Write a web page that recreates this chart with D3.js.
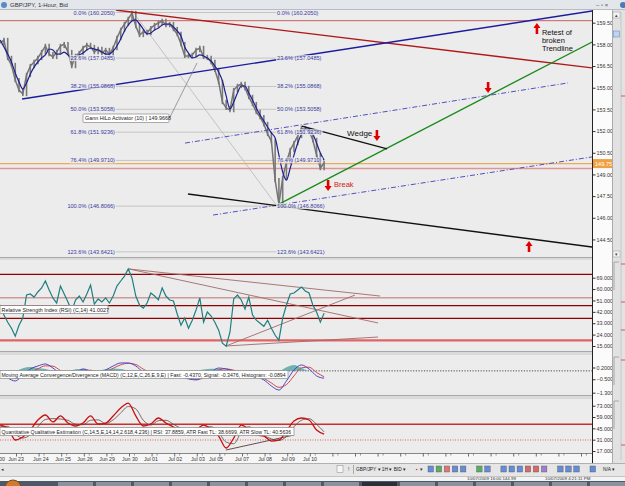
<!DOCTYPE html>
<html>
<head>
<meta charset="utf-8">
<script src="https://cdnjs.cloudflare.com/ajax/libs/d3/7.8.5/d3.min.js"></script>
<style>
body{margin:0;background:#fff;overflow:hidden}
svg{display:block;font-family:"Liberation Sans",Arial,sans-serif}
</style>
</head>
<body>
<div id="vis"></div>
<script>
// GBP/JPY 1-hour, 22 Jun - 10 Jul 2009, x in trading days (Jun 23 = 1)
var barStart = 0.3, barStep = 1 / 6;      // 4-hour samples
var price = [158.09,158.30,157.06,156.57,155.53,154.84,154.57,155.88,156.50,156.78,
  157.06,157.47,157.89,157.33,157.13,157.47,157.89,158.02,157.47,156.50,
  157.20,157.40,157.75,157.96,157.82,157.47,157.68,157.40,157.61,157.33,
  157.75,158.44,159.00,159.41,159.76,160.17,159.27,158.65,158.86,158.79,
  159.13,159.34,159.48,159.62,159.34,159.41,159.06,158.72,158.02,157.20,
  157.20,157.27,157.61,157.75,157.13,157.06,156.78,156.23,155.40,154.01,
  153.60,153.45,154.84,155.12,155.26,154.98,154.36,153.87,153.32,152.97,
  152.49,151.80,151.31,148.61,146.95,148.75,149.86,150.69,151.17,151.66,
  152.21,152.07,152.00,151.38,150.34,149.44,149.79];
var gann = [158.30,157.82,157.33,156.78,156.02,155.40,154.91,155.33,155.95,156.43,
  156.78,157.06,157.27,157.68,157.61,157.33,157.33,157.47,157.27,157.06,
  157.13,157.27,157.40,157.61,157.75,157.68,157.61,157.47,157.33,157.33,
  157.54,157.89,158.37,158.93,159.34,159.62,159.69,159.41,159.06,158.72,
  158.79,159.00,159.13,159.34,159.41,159.41,159.20,158.93,158.58,157.82,
  157.40,157.06,157.13,157.27,157.20,157.06,156.85,156.50,156.09,155.47,
  154.43,153.53,154.01,154.63,155.12,155.12,154.63,154.15,153.60,153.11,
  152.70,152.28,151.87,151.52,150.34,149.17,148.61,149.44,150.34,151.17,
  151.80,152.14,152.14,151.80,151.17,150.48,149.99];
var rsi = [47.4,39.5,33.8,29.0,22.7,31.4,37.1,55.3,56.1,53.7,
  57.7,60.9,66.4,59.3,53.0,49.0,62.4,56.1,49.8,42.7,
  51.4,54.5,49.8,56.1,63.2,48.2,52.2,49.8,53.0,49.0,
  54.5,62.4,66.4,70.3,75.9,68.8,54.5,47.4,45.0,49.0,
  56.9,54.5,51.4,60.9,54.5,51.4,50.6,40.3,31.4,37.1,
  29.0,35.4,43.5,53.0,33.8,41.9,38.7,33.8,27.5,17.2,
  14.8,25.9,52.2,55.3,51.4,44.3,53.7,39.5,35.4,33.0,
  30.6,35.4,29.0,23.5,19.6,37.1,47.4,56.1,56.9,59.3,
  61.6,58.5,56.9,47.4,41.9,33.8,41.0];

var slowStart = 0.3, slowStep = 1 / 3;    // 8-hour samples
var macdFast = [-0.07,-0.42,-0.60,-0.24,0.11,0.29,0.41,0.17,-0.18,-0.30,
  -0.13,0.11,-0.01,-0.18,0.05,0.29,0.47,0.47,0.29,-0.07,
  -0.18,-0.13,-0.13,-0.30,-0.36,-0.48,-0.54,-0.36,-0.07,0.17,
  0.11,-0.01,-0.13,-0.24,-0.36,-0.54,-0.90,-1.14,-0.60,0.05,
  0.35,0.11,-0.30,-0.44];
var macdSignal = [-0.02,-0.20,-0.45,-0.40,-0.12,0.12,0.30,0.28,0.02,-0.20,
  -0.22,-0.02,0.04,-0.08,-0.06,0.15,0.36,0.45,0.38,0.10,
  -0.10,-0.15,-0.14,-0.22,-0.32,-0.42,-0.50,-0.44,-0.20,0.05,
  0.12,0.04,-0.07,-0.18,-0.30,-0.45,-0.72,-0.98,-0.82,-0.30,
  0.18,0.22,-0.10,-0.35];
var qqeFast = [49.1,45.4,30.6,34.3,43.0,55.3,61.5,52.9,60.3,51.6,
  47.9,51.6,60.3,50.4,51.6,60.3,70.2,76.3,60.3,47.9,
  50.4,57.8,51.6,46.7,41.7,36.8,43.0,49.1,44.2,35.5,
  20.7,33.0,49.1,44.2,36.8,35.5,29.3,30.6,41.7,54.1,
  57.8,55.3,43.0,37.9];
var qqeSlow = [47.0,47.5,38.0,33.0,37.0,47.0,56.0,57.0,56.5,55.0,
  50.0,49.5,55.0,55.5,51.0,55.5,64.0,72.0,69.0,55.0,
  49.0,54.5,55.0,50.0,45.0,40.0,40.5,46.0,47.0,40.0,
  28.0,26.0,40.0,47.0,41.0,36.0,32.0,30.0,35.0,47.0,
  55.0,57.0,50.0,40.6];

var dateLabels = ["00","Jun 23","Jun 24","Jun 25","Jun 26","Jun 29","Jun 30","Jul 01","Jul 02","Jul 03","Jul 05","Jul 07","Jul 08","Jul 09","Jul 10"];
var dateDays = [0.38,1,2.1,3.08,4.05,5.03,6.04,6.97,8.04,9.05,9.85,11,12.02,13.03,14.01];
var priceTicks = [159.5,158,156.5,155,153.5,152,150.5,149,147.5,146,144.5];
var rsiTicks = [69,60,51,42,33,24,15];
var macdTicks = [0.2,-0.5,-1.3];
var qqeTicks = [73,59,45,31,17];

var fibPct = ["0.0%","23.6%","38.2%","50.0%","61.8%","76.4%","100.0%","123.6%"];
var fibPrice = [160.2050,157.0485,155.0868,153.5058,151.9236,149.9710,146.8066,143.6421];

// trend lines [day1, price1, day2, price2]
var redTrend = [5.38,160.38,26.49,156.37];
var blueTrend = [1.27,154.22,26.49,160.31];
var greenTrend = [12.55,146.88,26.49,158.16];
var channelTop = [8.48,151.17,25.42,155.33];
var channelBottom = [9.72,146.19,26.49,150.21];
var blackTrend = [8.61,147.65,26.49,143.98];
var wedgeTop = [13.65,152.35,17.42,150.76];
var fibDiagonal = [6.18,160.24,12.55,146.81];
var resistance = 159.64, lastPrice = 149.75, support = 149.41;
var arrowDay = [24.05,21.89,16.97,14.81,23.7];
var arrowPrice = [159.48,154.63,151.31,147.85,144.39];
var arrowUp = [true,false,false,false,true];

var rsiLevels = [71.7,53.2,46.9,36.9,19.5];
var rsiTrends = [[6.0,75.9,17.11,54.5],[6.0,75.9,17.02,33.2],[10.29,15.0,16.0,55.3],[10.29,15.0,17.02,22.1]];
var qqeTrend = [10.29,18.2,13.30,36.8];

var W = 625, H = 486, AX = 592;
var svg = d3.select("#vis").append("svg").attr("width", W).attr("height", H);
svg.append("rect").attr("width", W).attr("height", H).attr("fill", "#f2f2f2");

var x = d3.scaleLinear().domain([1, 14]).range([16, 309.8]);
var yMain = d3.scaleLinear().domain([159.5, 144.5]).range([22.7, 239.45]);
var yRsi = d3.scaleLinear().domain([69, 15]).range([277.7, 346]);
var yMacd = d3.scaleLinear().domain([0.2, -1.3]).range([367.5, 392.7]);
var yQqe = d3.scaleLinear().domain([73, 17]).range([405.7, 451]);

var panels = [{id: "pMain", y: 10, h: 247}, {id: "pRsi", y: 260, h: 91},
  {id: "pMacd", y: 355, h: 40}, {id: "pQqe", y: 399, h: 54}];
var defs = svg.append("defs");
panels.forEach(function(p) {
  defs.append("clipPath").attr("id", p.id).append("rect").attr("x", 0).attr("y", p.y).attr("width", AX).attr("height", p.h);
  svg.append("rect").attr("x", 0).attr("y", p.y).attr("width", AX).attr("height", p.h).attr("fill", "#ececec");
  svg.append("line").attr("x1", 0).attr("x2", AX).attr("y1", p.y + p.h + 0.5).attr("y2", p.y + p.h + 0.5).attr("stroke", "#a8a8a8");
});
// separators
[[257, 3], [351, 4], [395, 4]].forEach(function(s) {
  svg.append("rect").attr("x", 0).attr("y", s[0] + 1).attr("width", AX).attr("height", s[1] - 1).attr("fill", "#dadada");
});

// title bar
svg.append("rect").attr("width", W).attr("height", 10).attr("fill", "#e3e6ea");
svg.append("line").attr("x1", 0).attr("x2", W).attr("y1", 9.5).attr("y2", 9.5).attr("stroke", "#b8bcc2");
svg.append("circle").attr("cx", 4).attr("cy", 5).attr("r", 3).attr("fill", "#5a8ac8");
svg.append("text").attr("x", 10).attr("y", 7.3).attr("font-size", 6).attr("fill", "#333").text("GBP/JPY, 1-Hour, Bid");
svg.append("text").attr("x", 596).attr("y", 7.3).attr("font-size", 6).attr("fill", "#555").text("–  ▫  ×");
svg.append("circle").attr("cx", 623).attr("cy", 5).attr("r", 3).attr("fill", "#4a7ab8");

// ---------- main panel ----------
var gm = svg.append("g").attr("clip-path", "url(#pMain)");
function seg(g, t, ys) {
  return g.append("line").attr("x1", x(t[0])).attr("y1", ys(t[1])).attr("x2", x(t[2])).attr("y2", ys(t[3]));
}

// fibonacci levels
var fibLeft = 5.38, fibRight = 12.55;
fibPrice.forEach(function(p) {
  gm.append("line").attr("x1", x(fibLeft)).attr("x2", x(fibRight)).attr("y1", yMain(p)).attr("y2", yMain(p))
    .attr("stroke", "#c4c4c4").attr("stroke-width", 1);
});
seg(gm, fibDiagonal, yMain).attr("stroke", "#b8b8b8").attr("stroke-width", 0.8);

// horizontal levels
gm.append("line").attr("x1", 0).attr("x2", AX).attr("y1", yMain(resistance)).attr("y2", yMain(resistance)).attr("stroke", "#c86060").attr("stroke-width", 1);
gm.append("line").attr("x1", 0).attr("x2", AX).attr("y1", yMain(lastPrice)).attr("y2", yMain(lastPrice)).attr("stroke", "#eeaa55").attr("stroke-width", 1.4);
gm.append("line").attr("x1", 0).attr("x2", AX).attr("y1", yMain(support)).attr("y2", yMain(support)).attr("stroke", "#e09494").attr("stroke-width", 1.3);

// price bars + close line
var bx = function(i) { return x(barStart + i * barStep); };
gm.selectAll(".bar").data(price.slice(1)).enter().append("line")
  .attr("x1", function(d, i) { return bx(i + 1); }).attr("x2", function(d, i) { return bx(i + 1); })
  .attr("y1", function(d, i) { return yMain(Math.max(d, price[i]) + 0.15); })
  .attr("y2", function(d, i) { return yMain(Math.min(d, price[i]) - 0.15); })
  .attr("stroke", "#7a7a7a").attr("stroke-width", 1.6);
gm.append("path").datum(price).attr("fill", "none").attr("stroke", "#747474").attr("stroke-width", 1.5)
  .attr("d", d3.line().x(function(d, i) { return bx(i); }).y(function(d) { return yMain(d); }));
gm.append("path").datum(gann).attr("fill", "none").attr("stroke", "#1e1e90").attr("stroke-width", 1.2)
  .attr("d", d3.line().curve(d3.curveMonotoneX).x(function(d, i) { return bx(i); }).y(function(d) { return yMain(d); }));

// trend lines
seg(gm, redTrend, yMain).attr("stroke", "#b01818").attr("stroke-width", 1.4);
seg(gm, blueTrend, yMain).attr("stroke", "#1c1ca0").attr("stroke-width", 1.4);
seg(gm, greenTrend, yMain).attr("stroke", "#1a8a1a").attr("stroke-width", 1.3);
seg(gm, channelTop, yMain).attr("stroke", "#5050c0").attr("stroke-width", 1).attr("stroke-dasharray", "5,2,1,2");
seg(gm, channelBottom, yMain).attr("stroke", "#5050c0").attr("stroke-width", 1).attr("stroke-dasharray", "5,2,1,2");
seg(gm, blackTrend, yMain).attr("stroke", "#111").attr("stroke-width", 1.4);
seg(gm, wedgeTop, yMain).attr("stroke", "#111").attr("stroke-width", 1.3);

// fib labels
function fibLabel(xp, anchor, txt, yp) {
  var t = gm.append("text").attr("x", xp).attr("y", yp + 2).attr("font-size", 5.6).attr("fill", "#3a3aa0")
    .attr("text-anchor", anchor).text(txt);
  var bb = t.node().getBBox();
  gm.insert("rect", "text").attr("x", bb.x - 1).attr("y", bb.y).attr("width", bb.width + 2).attr("height", bb.height).attr("fill", "#ececec").attr("fill-opacity", 0.8);
  t.raise();
}
fibPrice.forEach(function(p, i) {
  var txt = fibPct[i] + "  (" + p.toFixed(4) + ")";
  fibLabel(x(fibLeft), "end", txt, yMain(p));
  fibLabel(x(fibRight), "start", txt, yMain(p));
});

// Gann label
var gannAnchor = [9.01, 156.71];
gm.append("line").attr("x1", 170).attr("y1", 117).attr("x2", x(gannAnchor[0])).attr("y2", yMain(gannAnchor[1])).attr("stroke", "#777").attr("stroke-width", 0.7);
gm.append("rect").attr("x", 83).attr("y", 114).attr("width", 86).attr("height", 8.5).attr("rx", 1).attr("fill", "#fff").attr("stroke", "#888").attr("stroke-width", 0.7);
gm.append("text").attr("x", 85).attr("y", 120.3).attr("font-size", 5.4).attr("fill", "#222").text("Gann HiLo Activator (10) | 149.9668");

// arrows
function arrow(g, cx, ty, up) {
  var s = up ? -1 : 1;
  var p = "M" + cx + "," + ty + "L" + (cx - 3.6) + "," + (ty - 5 * s) + "L" + (cx - 1.3) + "," + (ty - 5 * s) +
    "L" + (cx - 1.3) + "," + (ty - 11 * s) + "L" + (cx + 1.3) + "," + (ty - 11 * s) + "L" + (cx + 1.3) + "," + (ty - 5 * s) +
    "L" + (cx + 3.6) + "," + (ty - 5 * s) + "Z";
  g.append("path").attr("d", p).attr("fill", "#e00000");
}
arrowDay.forEach(function(d, i) { arrow(gm, x(d), yMain(arrowPrice[i]), arrowUp[i]); });

// annotations
[["Retest of", 158.65], ["broken", 158.10], ["Trendline", 157.54]].forEach(function(a) {
  gm.append("text").attr("x", x(24.27)).attr("y", yMain(a[1])).attr("font-size", 7.5).attr("fill", "#111").text(a[0]);
});
gm.append("text").attr("x", x(15.65)).attr("y", yMain(151.66)).attr("font-size", 8).attr("fill", "#111").text("Wedge");
gm.append("text").attr("x", x(15.07)).attr("y", yMain(148.13)).attr("font-size", 7.5).attr("fill", "#d02020").text("Break");

// ---------- RSI ----------
var gr = svg.append("g").attr("clip-path", "url(#pRsi)");
var rsiColors = ["#900000", "#d09a9a", "#900000", "#900000", "#e06464"];
var rsiWidths = [1.2, 1.6, 1.2, 1.2, 2.2];
rsiLevels.forEach(function(v, i) {
  gr.append("line").attr("x1", 0).attr("x2", AX).attr("y1", yRsi(v)).attr("y2", yRsi(v)).attr("stroke", rsiColors[i]).attr("stroke-width", rsiWidths[i]);
});
rsiTrends.forEach(function(t) { seg(gr, t, yRsi).attr("stroke", "#a06a6a").attr("stroke-width", 0.9); });
gr.append("path").datum(rsi).attr("fill", "none").attr("stroke", "#1f7f80").attr("stroke-width", 1.2)
  .attr("d", d3.line().x(function(d, i) { return bx(i); }).y(function(d) { return yRsi(d); }));
gr.append("rect").attr("x", 0).attr("y", 305.5).attr("width", 108).attr("height", 8).attr("fill", "#fff").attr("stroke", "#888").attr("stroke-width", 0.7);
gr.append("text").attr("x", 1.5).attr("y", 311.5).attr("font-size", 5.4).attr("fill", "#222").text("Relative Strength Index (RSI) (C,14) 41.0027");

// ---------- MACD ----------
var gd = svg.append("g").attr("clip-path", "url(#pMacd)");
var sx = function(i) { return x(slowStart + i * slowStep); };
gd.append("line").attr("x1", 0).attr("x2", AX).attr("y1", yMacd(0)).attr("y2", yMacd(0)).attr("stroke", "#222").attr("stroke-width", 0.8).attr("stroke-dasharray", "1.2,1.5");
gd.append("path").datum(macdFast).attr("fill", "#3a9a98").attr("fill-opacity", 0.7)
  .attr("d", d3.area().curve(d3.curveMonotoneX).x(function(d, i) { return sx(i); }).y0(yMacd(0))
    .y1(function(d, i) { return yMacd(Math.max(0, d - macdSignal[i])); }));
gd.append("path").datum(macdSignal).attr("fill", "none").attr("stroke", "#d04848").attr("stroke-width", 1)
  .attr("d", d3.line().curve(d3.curveMonotoneX).x(function(d, i) { return sx(i); }).y(function(d) { return yMacd(d); }));
gd.append("path").datum(macdFast).attr("fill", "none").attr("stroke", "#4848c8").attr("stroke-width", 1)
  .attr("d", d3.line().curve(d3.curveMonotoneX).x(function(d, i) { return sx(i); }).y(function(d) { return yMacd(d); }));
gd.append("rect").attr("x", 0).attr("y", 370.5).attr("width", 288).attr("height", 8).attr("fill", "#fff").attr("stroke", "#888").attr("stroke-width", 0.7);
gd.append("text").attr("x", 1.5).attr("y", 376.5).attr("font-size", 5.2).attr("fill", "#222")
  .text("Moving Average Convergence/Divergence (MACD) (C,12,E,C,26,E,9,E) | Fast: -0.4370, Signal: -0.3476, Histogram: -0.0894");

// ---------- QQE ----------
var gq = svg.append("g").attr("clip-path", "url(#pQqe)");
gq.append("line").attr("x1", 0).attr("x2", AX).attr("y1", yQqe(50)).attr("y2", yQqe(50)).attr("stroke", "#c83030").attr("stroke-width", 1.6);
gq.append("line").attr("x1", 0).attr("x2", AX).attr("y1", yQqe(30.6)).attr("y2", yQqe(30.6)).attr("stroke", "#e06060").attr("stroke-width", 1).attr("stroke-dasharray", "1,1.5");
seg(gq, qqeTrend, yQqe).attr("stroke", "#5a3a3a").attr("stroke-width", 0.9);
gq.append("path").datum(qqeSlow).attr("fill", "none").attr("stroke", "#5a4a4a").attr("stroke-width", 0.8)
  .attr("d", d3.line().curve(d3.curveMonotoneX).x(function(d, i) { return sx(i); }).y(function(d) { return yQqe(d); }));
gq.append("path").datum(qqeFast).attr("fill", "none").attr("stroke", "#cc1010").attr("stroke-width", 1.3)
  .attr("d", d3.line().curve(d3.curveMonotoneX).x(function(d, i) { return sx(i); }).y(function(d) { return yQqe(d); }));
gq.append("rect").attr("x", 0).attr("y", 427.5).attr("width", 294).attr("height", 8).attr("fill", "#fff").attr("stroke", "#888").attr("stroke-width", 0.7);
gq.append("text").attr("x", 1.5).attr("y", 433.5).attr("font-size", 5.2).attr("fill", "#222")
  .text("Quantitative Qualitative Estimation (C,14,5,E,14,14,2.618,4.236) | RSI: 37.8859, ATR Fast TL: 38.6699, ATR Slow TL: 40.5636");

// ---------- right axes ----------
svg.append("rect").attr("x", AX).attr("y", 10).attr("width", 20).attr("height", 453).attr("fill", "#fbfbfb");
svg.append("line").attr("x1", AX + 0.5).attr("x2", AX + 0.5).attr("y1", 10).attr("y2", 476).attr("stroke", "#222");
function rightAxis(ys, ticks, fmt) {
  var g = svg.append("g").attr("transform", "translate(" + (AX + 0.5) + ",0)")
    .call(d3.axisRight(ys).tickValues(ticks).tickSize(3).tickPadding(1).tickFormat(d3.format(fmt)));
  g.select(".domain").remove();
  g.selectAll("text").attr("font-size", 5.4).attr("fill", "#333").attr("font-family", "Liberation Sans, Arial");
  g.selectAll("line").attr("stroke", "#333");
}
rightAxis(yMain, priceTicks, ".2f");
rightAxis(yRsi, rsiTicks, ".4f");
rightAxis(yMacd, macdTicks, ".4f");
rightAxis(yQqe, qqeTicks, ".4f");
svg.append("rect").attr("x", AX + 1).attr("y", yMain(lastPrice) - 4.5).attr("width", 19).attr("height", 9).attr("fill", "#f0a040");
svg.append("text").attr("x", AX + 3).attr("y", yMain(lastPrice) + 2).attr("font-size", 5.6).attr("fill", "#fff").text("149.75");

// scroll strip
svg.append("rect").attr("x", 612).attr("y", 10).attr("width", 13).attr("height", 453).attr("fill", "#e2e2e2");
svg.append("line").attr("x1", 612.5).attr("x2", 612.5).attr("y1", 10).attr("y2", 463).attr("stroke", "#aaa");
[[613, 12], [613, 251]].forEach(function(b, i) {
  svg.append("rect").attr("x", b[0]).attr("y", b[1]).attr("width", 7).attr("height", 6).attr("fill", "#f4f4f4").attr("stroke", "#999").attr("stroke-width", 0.5);
  svg.append("text").attr("x", b[0] + 3.5).attr("y", b[1] + 5).attr("font-size", 4.5).attr("text-anchor", "middle").attr("fill", "#444").text(i ? "▾" : "▴");
});
svg.append("rect").attr("x", 613.5).attr("y", 31).attr("width", 6).attr("height", 6).attr("fill", "#bcd6ee").attr("stroke", "#6a90c0").attr("stroke-width", 0.6);
[260, 355, 399].forEach(function(yy) {
  svg.append("path").attr("d", "M619," + (yy + 2) + "L614," + (yy + 2) + "L614," + (yy + 30)).attr("fill", "none").attr("stroke", "#999").attr("stroke-width", 0.8);
});
svg.append("line").attr("x1", 621).attr("x2", 621).attr("y1", 12).attr("y2", 460).attr("stroke", "#c8c8c8");
[96, 264, 302, 330, 360, 445].forEach(function(yy) {
  svg.append("line").attr("x1", 621).attr("x2", 625).attr("y1", yy).attr("y2", yy).attr("stroke", "#c04040").attr("stroke-width", 0.8);
});

// ---------- date axis ----------
svg.append("rect").attr("x", 0).attr("y", 453.5).attr("width", AX).attr("height", 9.5).attr("fill", "#f6f6f6");
svg.append("line").attr("x1", 0).attr("x2", AX).attr("y1", 453.5).attr("y2", 453.5).attr("stroke", "#888");
var tickDays = d3.range(0, 27);
svg.selectAll(".dtick").data(tickDays).enter().append("line")
  .attr("x1", function(d) { return x(d) + 0.5; }).attr("x2", function(d) { return x(d) + 0.5; })
  .attr("y1", 453.5).attr("y2", 456.5).attr("stroke", "#333").attr("stroke-width", 0.7);
svg.selectAll(".dtick2").data(tickDays).enter().append("line")
  .attr("x1", function(d) { return x(d + 0.22) + 0.5; }).attr("x2", function(d) { return x(d + 0.22) + 0.5; })
  .attr("y1", 453.5).attr("y2", 455.5).attr("stroke", "#555").attr("stroke-width", 0.6);
svg.selectAll(".dlab").data(dateLabels).enter().append("text")
  .attr("x", function(d, i) { return x(dateDays[i]); }).attr("y", 461.3)
  .attr("text-anchor", "middle").attr("font-size", 5.2).attr("fill", "#333").text(function(d) { return d; });

// ---------- toolbar / status / taskbar ----------
svg.append("rect").attr("x", 0).attr("y", 463).attr("width", W).attr("height", 13).attr("fill", "#e6e6e6");
svg.append("line").attr("x1", 0).attr("x2", W).attr("y1", 463.5).attr("y2", 463.5).attr("stroke", "#b0b0b0");
svg.append("text").attr("x", 1).attr("y", 471).attr("font-size", 5).attr("fill", "#444").text("◂");
svg.append("rect").attr("x", 337).attr("y", 465.5).attr("width", 6).attr("height", 7).attr("fill", "#f6f6f6").attr("stroke", "#888").attr("stroke-width", 0.5);
svg.append("text").attr("x", 348).attr("y", 471).attr("font-size", 5).attr("fill", "#333").text("!");
svg.append("line").attr("x1", 353.5).attr("x2", 353.5).attr("y1", 465).attr("y2", 474).attr("stroke", "#aaa");
svg.append("text").attr("x", 356).attr("y", 471).attr("font-size", 4.8).attr("fill", "#222").text("GBP/JPY ▾   1H ▾   BID ▾");
svg.append("text").attr("x", 416).attr("y", 471).attr("font-size", 4.8).attr("fill", "#d02020").text("▪");
svg.append("text").attr("x", 420).attr("y", 471).attr("font-size", 4.8).attr("fill", "#333").text("▾");
var iconColors = ["#3a6ed0", "#2a9a3a", "#e05050", "#3a6ed0", "#3a6ed0", null, "#2a9a3a", "#3a6ed0", null, "#3a6ed0", "#3a6ed0", "#3a6ed0", "#d04040", "#d04040", "#8a5ac8", null, "#3a6ed0", "#3a6ed0", "#3a6ed0", null, "#3a6ed0"];
iconColors.forEach(function(c, i) {
  if (!c) return;
  var ix = 428 + i * 8.1;
  svg.append("rect").attr("x", ix).attr("y", 466).attr("width", 5.5).attr("height", 6).attr("fill", c).attr("fill-opacity", 0.75).attr("stroke", "#555").attr("stroke-width", 0.4);
});
svg.append("text").attr("x", 603).attr("y", 471).attr("font-size", 4.8).attr("fill", "#222").text("N/A ▾");
svg.append("rect").attr("x", 0).attr("y", 476).attr("width", W).attr("height", 5).attr("fill", "#f4f4f4");
svg.append("line").attr("x1", 0).attr("x2", W).attr("y1", 476.5).attr("y2", 476.5).attr("stroke", "#c4c4c4");
svg.append("text").attr("x", 467).attr("y", 480.4).attr("font-size", 4.4).attr("fill", "#333").text("10/07/2009 16:00    144.99");
svg.append("text").attr("x", 545).attr("y", 480.4).attr("font-size", 4.4).attr("fill", "#333").text("10/07/2009 4:21:11 PM");
svg.append("rect").attr("x", 0).attr("y", 481).attr("width", W).attr("height", 5).attr("fill", "#4e5866");
d3.range(0, 15).forEach(function(i) {
  svg.append("rect").attr("x", 58 + i * 38).attr("y", 482).attr("width", 35).attr("height", 4).attr("fill", i === 8 ? "#2a2f38" : "#8a929e");
});
svg.append("circle").attr("cx", 13).attr("cy", 488).attr("r", 8).attr("fill", "#d07a30").attr("stroke", "#7a4a20");
</script>
</body>
</html>
